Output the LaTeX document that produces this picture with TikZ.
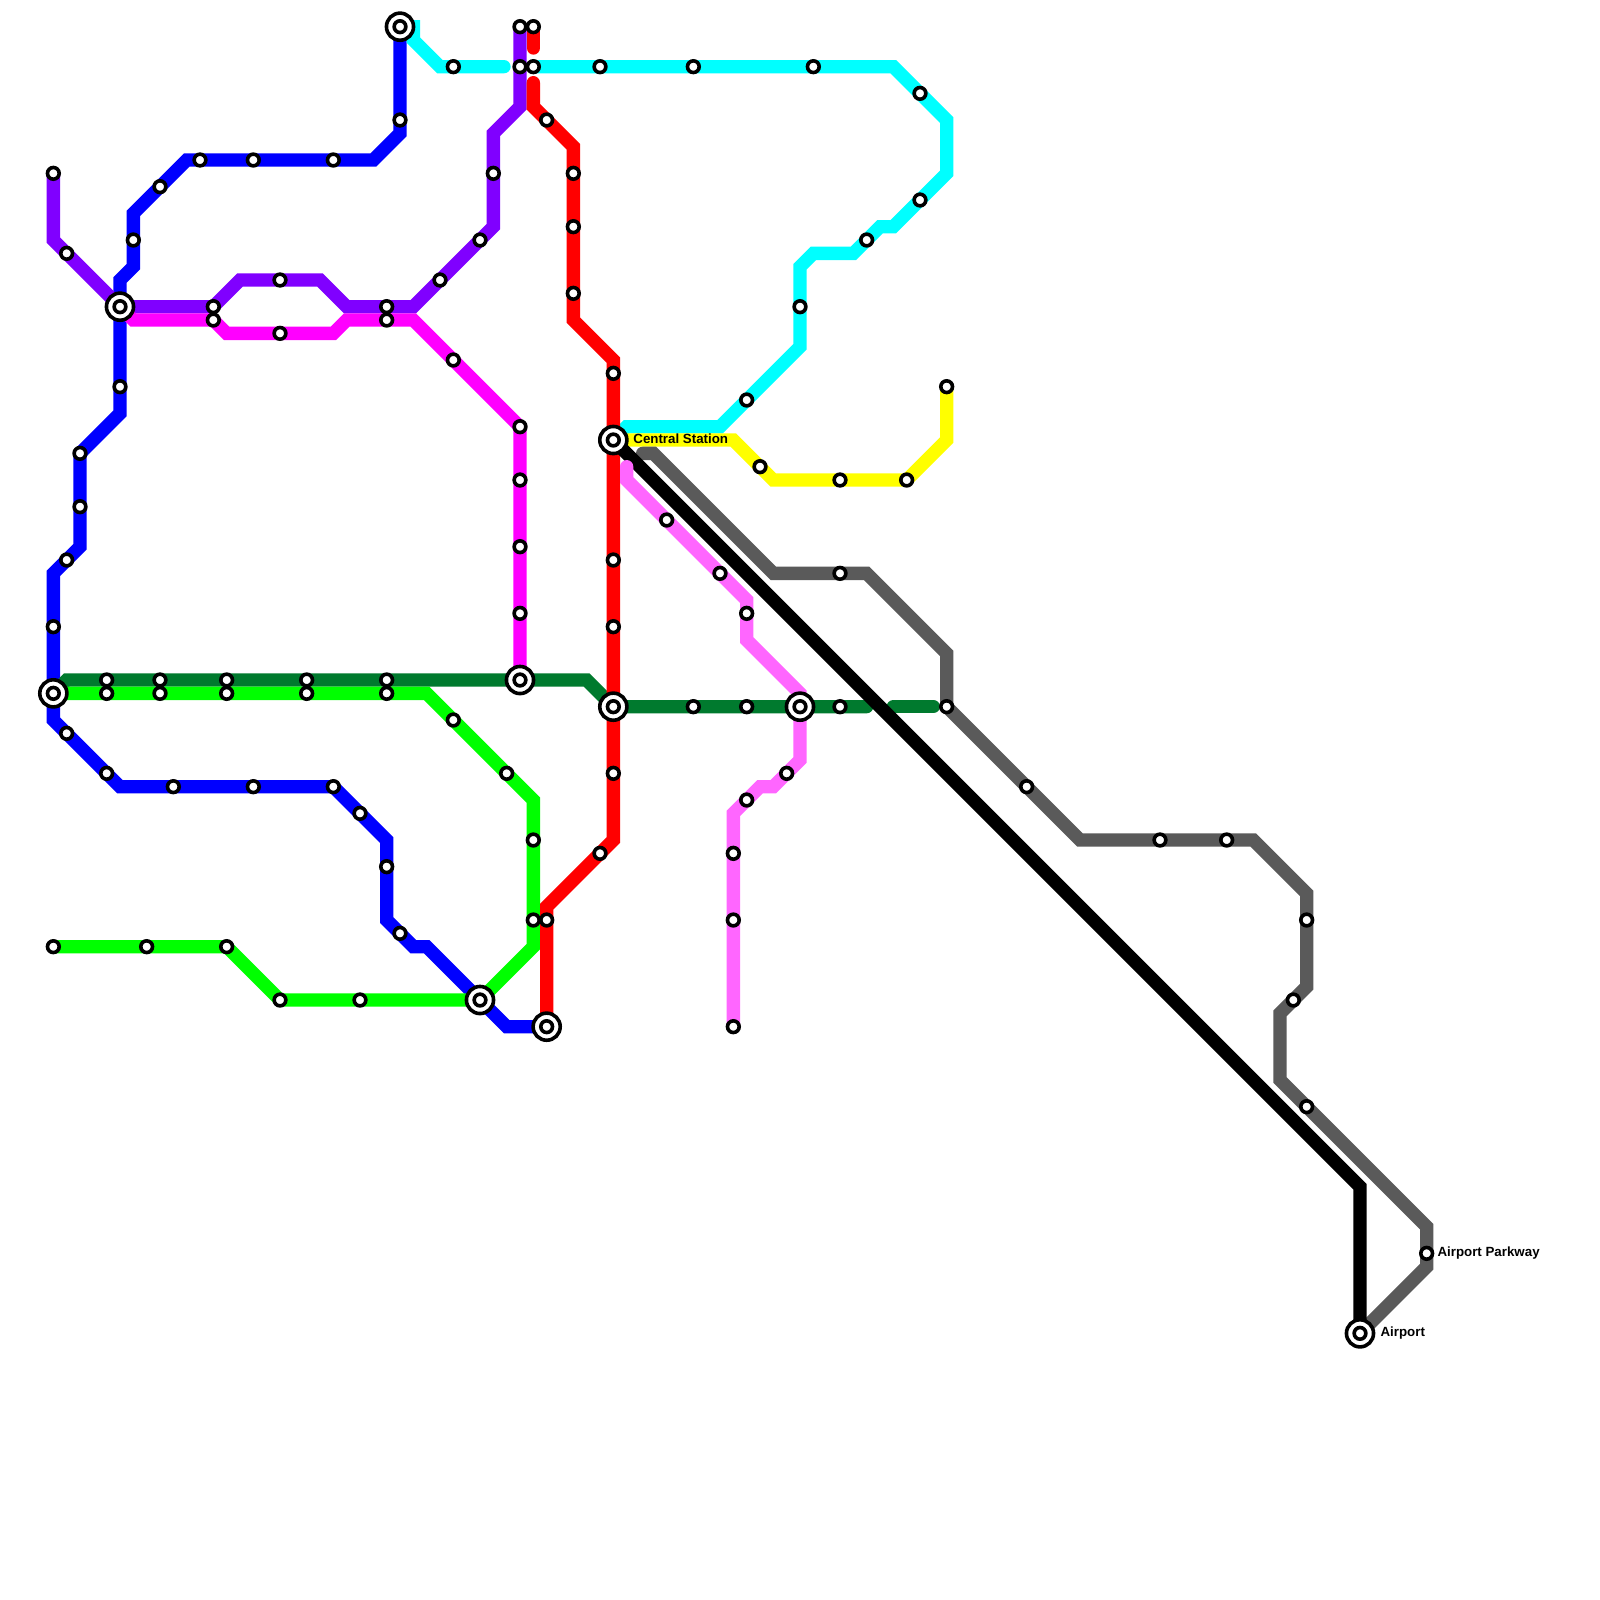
\documentclass[tikz,border=0pt]{standalone}
\usepackage{fontspec}
\setmainfont{Liberation Sans}
\usetikzlibrary{positioning}
\definecolor{lineBlue}{HTML}{0000FF}
\definecolor{linePurple}{HTML}{8000FF}
\definecolor{lineMagenta}{HTML}{FF00FF}
\definecolor{lineCyan}{HTML}{00FFFF}
\definecolor{lineForest}{HTML}{007A2E}
\definecolor{lineLime}{HTML}{00FF00}
\definecolor{linePink}{HTML}{FF66FF}
\definecolor{lineYellow}{HTML}{FFFF00}
\definecolor{lineRed}{HTML}{FF0000}
\definecolor{lineGrey}{HTML}{5A5A5A}

\begin{document}
\begin{tikzpicture}[x=.133333cm,y=-.133333cm,font=\bfseries\fontsize{3.79}{4.5}\selectfont,
 route/.style={line width=1.3333mm,line cap=round,line join=miter},
 stn/.style={circle,draw=black,fill=white,line width=.36mm,inner sep=0pt,minimum size=1.17mm},
 hub/.style={circle,draw=black,fill=white,line width=.36mm,inner sep=0pt,minimum size=2.71mm},
 lab/.style={inner sep=0pt,anchor=west}]
\useasboundingbox (0,0) rectangle (120,120);
\fill[white] (0,0) rectangle (120,120);
% interchanges
\foreach \n/\x/\y in {west/9/23,north/30/2,junction/4/52,mid/39/51,central/46/33,lower/46/53,east/60/53,south/36/75,terminus/41/77,airport/102/100}
 \coordinate (\n) at (\x,\y);
% line ends
\foreach \n/\x/\y in {a/4/13,b/39/2,c/40/2,d/4/71,e/71/29,f/70/53,g/55/77}
 \coordinate (\n) at (\x,\y);
% lines
\draw[route,lineBlue] (north)--(30,10)--(28,12)--(14,12)--(10,16)--(10,20)--(9,21)--(west)--(9,31)--(6,34)--(6,41)--(4,43)--(junction)--(4,54)--(9,59)--(25,59)--(29,63)--(29,69)--(31,71)--(32,71)--(south)--(38,77)--(terminus);
\draw[route,linePurple] (a)--(4,18)--(west)--(16,23)--(18,21)--(24,21)--(26,23)--(31,23)--(37,17)--(37,10)--(39,8)--(b);
\draw[route,lineMagenta] (west)--(10,24)--(16,24)--(17,25)--(25,25)--(26,24)--(31,24)--(39,32)--(mid);
\draw[route,lineCyan] (north)--(31,2)--(31,3)--(33,5)--(37.8,5);
\draw[route,lineCyan] (40,5)--(67,5)--(71,9)--(71,13)--(67,17)--(66,17)--(64,19)--(61,19)--(60,20)--(60,26)--(54,32)--(47,32)--(central);
\draw[route,lineForest] (junction)--(5,51)--(44,51)--(lower)--(65,53);
\draw[route,lineForest] (67,53)--(f);
\draw[route,lineLime] (junction)--(32,52)--(40,60)--(40,71)--(south)--(21,75)--(17,71)--(d);
\draw[route,lineYellow] (central)--(55,33)--(58,36)--(68,36)--(71,33)--(e);
\draw[route,lineRed] (c)--(40,3.6);
\draw[route,lineRed] (40,6.2)--(40,8)--(43,11)--(43,24)--(46,27)--(46,63)--(41,68)--(terminus);
\draw[route,lineGrey] (48.2,34)--(49,34)--(58,43)--(65,43)--(71,49)--(71,53)--(81,63)--(94,63)--(98,67)--(98,74)--(96,76)--(96,81)--(107,92)--(107,95)--(airport);
\draw[route,black] (central)--(102,89)--(airport);
\draw[route,linePink] (47,35)--(47,36)--(56,45)--(56,48)--(60,52)--(east)--(60,57)--(58,59)--(57,59)--(55,61)--(g);
% interchange rings
\foreach \n in {west,north,junction,mid,central,lower,east,south,terminus,airport}
 \node[hub] (ring\n) at (\n) {};
% stations
\foreach \x/\y in {30/2,30/9,25/12,19/12,15/12,12/14,10/18,9/23,9/29,6/34,6/38,5/42,4/47,4/52,5/55,8/58,13/59,19/59,25/59,27/61,29/65,30/70,36/75,41/77,
 4/13,5/19,16/23,21/21,29/23,33/21,36/18,37/13,39/5,39/2,
 16/24,21/25,29/24,34/27,39/32,39/36,39/41,39/46,39/51,
 34/5,45/5,52/5,61/5,69/7,69/15,65/18,60/23,56/30,
 8/51,12/51,17/51,23/51,29/51,46/53,52/53,56/53,60/53,63/53,
 8/52,12/52,17/52,23/52,29/52,34/54,38/58,40/63,40/69,27/75,21/75,17/71,11/71,4/71,
 57/35,63/36,68/36,71/29,
 40/2,40/5,41/9,43/13,43/17,43/22,46/28,46/33,46/42,46/47,46/58,45/64,41/69,
 63/43,71/53,77/59,87/63,92/63,98/69,97/75,98/83,107/94,102/100,
 50/39,54/43,56/46,59/58,56/60,55/64,55/69,55/77}
 \node[stn] (s\x-\y) at (\x,\y) {};
% labels
\node[lab,right=.4mm of ringcentral,yshift=.15mm] (labcentral) {Central Station};
\node[lab,right=.45mm of ringairport] (labairport) {Airport};
\node[lab,right=.25mm of s107-94] (labparkway) {Airport Parkway};
\end{tikzpicture}
\end{document}
